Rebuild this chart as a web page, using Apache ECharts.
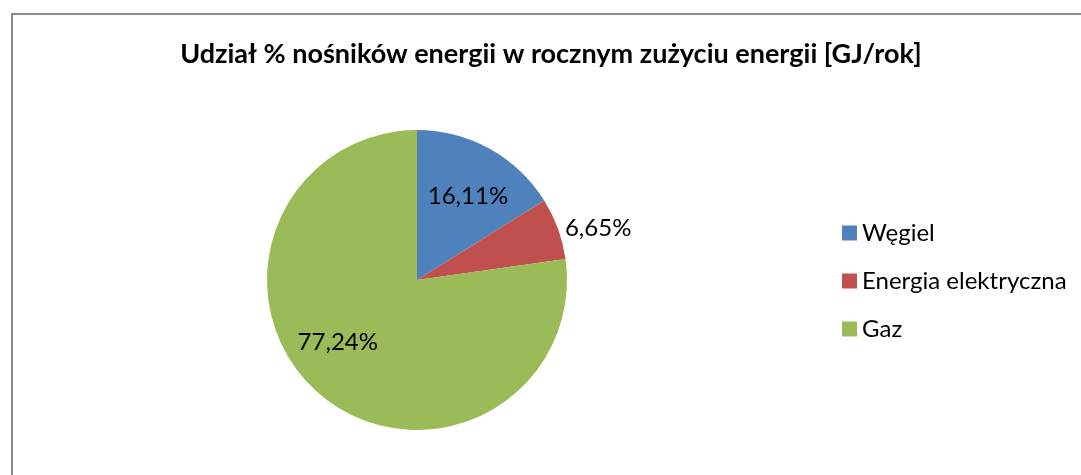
<!DOCTYPE html>
<html>
<head>
<meta charset="utf-8">
<script src="https://cdn.jsdelivr.net/npm/echarts@6/dist/echarts.min.js"></script>
<style>
  html, body { margin: 0; padding: 0; background: #fff; overflow: hidden; }
  #frame { position: absolute; left: 11px; top: 13px; width: 1200px; height: 600px;
           border-left: 2px solid #8a8a8a; border-top: 2px solid #8a8a8a; }
  #chart { position: absolute; left: 0; top: 0; width: 1081px; height: 475px; }
</style>
</head>
<body>
<div id="frame"></div>
<div id="chart"></div>
<script>
// udział nośników energii (%)
const names = ["Węgiel", "Energia elektryczna", "Gaz"];
const shares = [16.11, 6.65, 77.24];
const colors = ["#4F81BD", "#C0504D", "#9BBB59"];
const titleText = "Udział % nośników energii w rocznym zużyciu energii [GJ/rok]";

const FONT = "Lato";
const fmtPct = (v) => v.toFixed(2).replace(".", ",") + "%";

const chart = echarts.init(document.getElementById("chart"), null, { renderer: "canvas" });

const pieData = names.map((n, i) => ({ name: n, value: shares[i], itemStyle: { color: colors[i] } }));

chart.setOption({
  animation: false,
  backgroundColor: "transparent",
  title: {
    text: titleText, left: 551, top: 41, textAlign: "center", padding: 0,
    textStyle: { fontFamily: FONT, fontWeight: "bold", fontSize: 27, color: "#000" }
  },
  legend: {
    orient: "vertical", left: 837, top: 216, itemWidth: 15, itemHeight: 15, itemGap: 24,
    icon: "rect", data: names,
    textStyle: { fontFamily: FONT, fontSize: 24, color: "#000" }
  },
  series: [
    {
      // main pie; only the small red slice gets an outside label
      name: "main", type: "pie", center: [417, 280], radius: 150,
      startAngle: 90, clockwise: true, avoidLabelOverlap: false, silent: true,
      data: pieData.map((d, i) => ({
        ...d,
        label: { show: i === 1 }
      })),
      label: {
        position: "outside", formatter: (p) => fmtPct(p.value),
        fontFamily: FONT, fontSize: 24, color: "#000", alignTo: "none"
      },
      labelLine: { show: false, length: 0, length2: 2 }
    },
    {
      // transparent helper ring so inside labels sit further out, like in Excel
      name: "labels", type: "pie", center: [417, 280], radius: 196,
      startAngle: 90, clockwise: true, silent: true, legendHoverLink: false,
      itemStyle: { color: "transparent", borderWidth: 0 },
      emphasis: { disabled: true },
      data: names.map((n, i) => ({
        name: n, value: shares[i], itemStyle: { color: "rgba(0,0,0,0)" },
        label: { show: i !== 1, offset: i === 2 ? [-13, -14] : [2, 5] }
      })),
      label: {
        position: "inside", formatter: (p) => fmtPct(p.value),
        fontFamily: FONT, fontSize: 24, color: "#000"
      }
    }
  ]
});
</script>
</body>
</html>
